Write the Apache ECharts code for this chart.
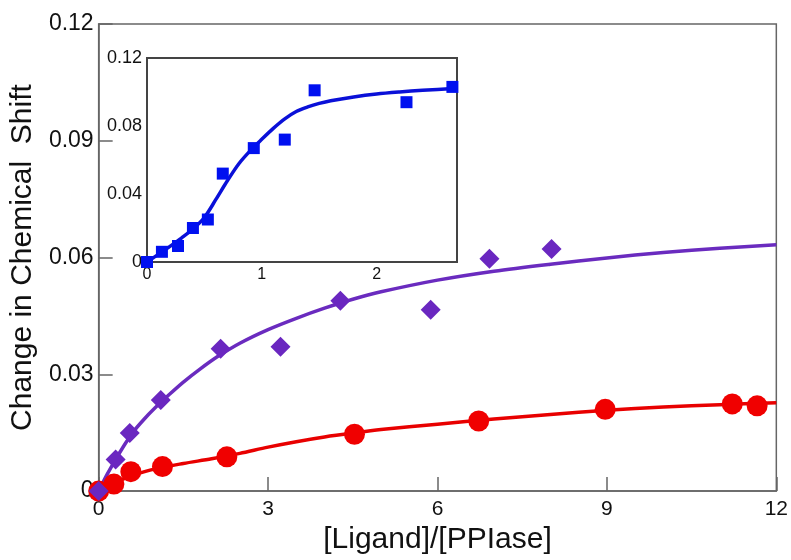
<!DOCTYPE html>
<html>
<head>
<meta charset="utf-8">
<script src="https://cdn.jsdelivr.net/npm/echarts@6/dist/echarts.min.js"></script>
<style>
  html, body { margin: 0; padding: 0; background: #fff; }
  #chart { width: 791px; height: 560px; }
</style>
</head>
<body>
<div id="chart"></div>
<script>
// main plot: purple diamonds
const purpleX = [0, 0.30, 0.55, 1.10, 2.16, 3.22, 4.28, 5.88, 6.92, 8.02];
const purpleY = [0, 0.0081, 0.0149, 0.0234, 0.0366, 0.0371, 0.0489, 0.0466, 0.0597, 0.0622];
// purple fit line
const purpleFitX = [0, 0.15, 0.3, 0.45, 0.6, 0.8, 1.0, 1.25, 1.5, 1.8, 2.1, 2.5, 3.0, 3.5, 4.0, 4.5, 5, 6, 7, 8, 9, 10, 11, 12];
const purpleFitY = [0, 0.0043, 0.0081, 0.0117, 0.0150, 0.0184, 0.0214, 0.0248, 0.0280, 0.0314, 0.0345, 0.0380, 0.0415, 0.0444, 0.0470, 0.0493, 0.0512, 0.0542, 0.0565, 0.0583, 0.0599, 0.0613, 0.0624, 0.0633];

// main plot: red circles
const redX = [0, 0.27, 0.57, 1.13, 2.27, 4.53, 6.73, 8.97, 11.22, 11.66];
const redY = [0, 0.0018, 0.0050, 0.0063, 0.0088, 0.0146, 0.0180, 0.0210, 0.0224, 0.0219];
const redFitX = [0, 0.15, 0.3, 0.6, 1.0, 1.5, 2.0, 2.5, 3.0, 3.5, 4.0, 4.5, 5, 6, 7, 8, 9, 10, 11, 12];
const redFitY = [0, 0.0012, 0.0023, 0.0040, 0.0057, 0.0071, 0.0083, 0.0097, 0.0113, 0.0127, 0.0139, 0.0149, 0.0158, 0.0172, 0.0185, 0.0197, 0.0208, 0.0216, 0.0222, 0.0227];

// inset: blue squares
const blueX = [0, 0.13, 0.27, 0.40, 0.53, 0.66, 0.93, 1.20, 1.46, 2.26, 2.66];
const blueY = [0, 0.0060, 0.0094, 0.0200, 0.0250, 0.0520, 0.0670, 0.0720, 0.1010, 0.0940, 0.1030];
const blueFitX = [0, 0.1, 0.2, 0.3, 0.4, 0.5, 0.6, 0.7, 0.8, 0.9, 1.0, 1.1, 1.2, 1.3, 1.4, 1.5, 1.6, 1.8, 2.0, 2.2, 2.4, 2.7];
const blueFitY = [0, 0.0045, 0.0092, 0.0141, 0.0194, 0.0262, 0.0368, 0.0478, 0.0578, 0.0655, 0.0722, 0.0786, 0.0842, 0.0885, 0.0912, 0.0933, 0.0949, 0.0971, 0.0988, 0.1000, 0.1010, 0.1022];

const mainXTicks = { min: 0, max: 12, interval: 3 };
const mainYTicks = { min: 0, max: 0.12, interval: 0.03 };
const insetXTicks = { min: 0, max: 2.7, interval: 1 };
const insetYTicks = { min: 0, max: 0.12, interval: 0.04 };

function pairs(xs, ys) {
    return xs.map((x, i) => [x, ys[i]]);
}

const font = 'Liberation Sans, Arial, sans-serif';
const axisGrey = '#666';

let myChart = echarts.init(document.getElementById('chart'));
let option = {
    backgroundColor: '#fff',
    animation: false,
    grid: [
        { left: 98, right: 14, top: 24, bottom: 60, show: true, borderColor: axisGrey, borderWidth: 1.5, backgroundColor: 'transparent' },
        { left: 147, top: 58, width: 310, height: 204, show: true, borderColor: '#444', borderWidth: 2, backgroundColor: '#fff', z: 5 }
    ],
    xAxis: [
        {
            type: 'value', gridIndex: 0,
            min: mainXTicks.min, max: mainXTicks.max, interval: mainXTicks.interval,
            name: '[Ligand]/[PPIase]', nameLocation: 'middle', nameGap: 24,
            nameTextStyle: { fontSize: 30, fontFamily: font, color: '#111' },
            axisLine: { lineStyle: { color: axisGrey, width: 1.5 } },
            axisTick: { inside: true, length: 14, lineStyle: { color: axisGrey, width: 1.5 } },
            axisLabel: { fontSize: 21, fontFamily: font, color: '#111', margin: 8 },
            splitLine: { show: false }
        },
        {
            type: 'value', gridIndex: 1,
            min: insetXTicks.min, max: insetXTicks.max, interval: insetXTicks.interval,
            axisLine: { lineStyle: { color: '#444', width: 2 } },
            axisTick: { inside: true, length: 12, lineStyle: { color: '#444', width: 1.5 } },
            axisLabel: { fontSize: 16, fontFamily: font, color: '#111', margin: 5, showMaxLabel: false },
            splitLine: { show: false }
        }
    ],
    yAxis: [
        {
            type: 'value', gridIndex: 0,
            min: mainYTicks.min, max: mainYTicks.max, interval: mainYTicks.interval,
            name: 'Change in Chemical  Shift', nameLocation: 'middle', nameGap: 58,
            nameTextStyle: { fontSize: 30, fontFamily: font, color: '#111' },
            axisLine: { show: true, lineStyle: { color: axisGrey, width: 1.5 } },
            axisTick: { show: true, inside: true, length: 14, lineStyle: { color: axisGrey, width: 1.5 } },
            axisLabel: { fontSize: 23, fontFamily: font, color: '#111', margin: 5 },
            splitLine: { show: false }
        },
        {
            type: 'value', gridIndex: 1,
            min: insetYTicks.min, max: insetYTicks.max, interval: insetYTicks.interval,
            axisLine: { show: true, lineStyle: { color: '#444', width: 2 } },
            axisTick: { show: true, inside: true, length: 12, lineStyle: { color: '#444', width: 1.5 } },
            axisLabel: { fontSize: 18, fontFamily: font, color: '#111', margin: 5 },
            splitLine: { show: false }
        }
    ],
    series: [
        {
            name: 'purple fit', type: 'line', xAxisIndex: 0, yAxisIndex: 0,
            data: pairs(purpleFitX, purpleFitY),
            smooth: 0.3, showSymbol: false, clip: false,
            lineStyle: { color: '#6a2bbf', width: 3.5 }, z: 2
        },
        {
            name: 'red fit', type: 'line', xAxisIndex: 0, yAxisIndex: 0,
            data: pairs(redFitX, redFitY),
            smooth: 0.3, showSymbol: false, clip: false,
            lineStyle: { color: '#e80000', width: 3.5 }, z: 2
        },
        {
            name: 'red', type: 'scatter', xAxisIndex: 0, yAxisIndex: 0,
            data: pairs(redX, redY), symbol: 'circle', symbolSize: 21, clip: false,
            itemStyle: { color: '#f00000', opacity: 1 }, z: 3
        },
        {
            name: 'purple', type: 'scatter', xAxisIndex: 0, yAxisIndex: 0,
            data: pairs(purpleX, purpleY), symbol: 'diamond', symbolSize: [20, 20], clip: false,
            itemStyle: { color: '#6a27c0', opacity: 1 }, z: 4
        },
        {
            name: 'blue fit', type: 'line', xAxisIndex: 1, yAxisIndex: 1,
            data: pairs(blueFitX, blueFitY),
            smooth: 0.3, showSymbol: false, clip: false,
            lineStyle: { color: '#0a10d8', width: 3.5 }, z: 6
        },
        {
            name: 'blue', type: 'scatter', xAxisIndex: 1, yAxisIndex: 1,
            data: pairs(blueX, blueY), symbol: 'rect', symbolSize: 12, clip: false,
            itemStyle: { color: '#0010f0', opacity: 1 }, z: 7
        }
    ]
};
myChart.setOption(option);
</script>
</body>
</html>
